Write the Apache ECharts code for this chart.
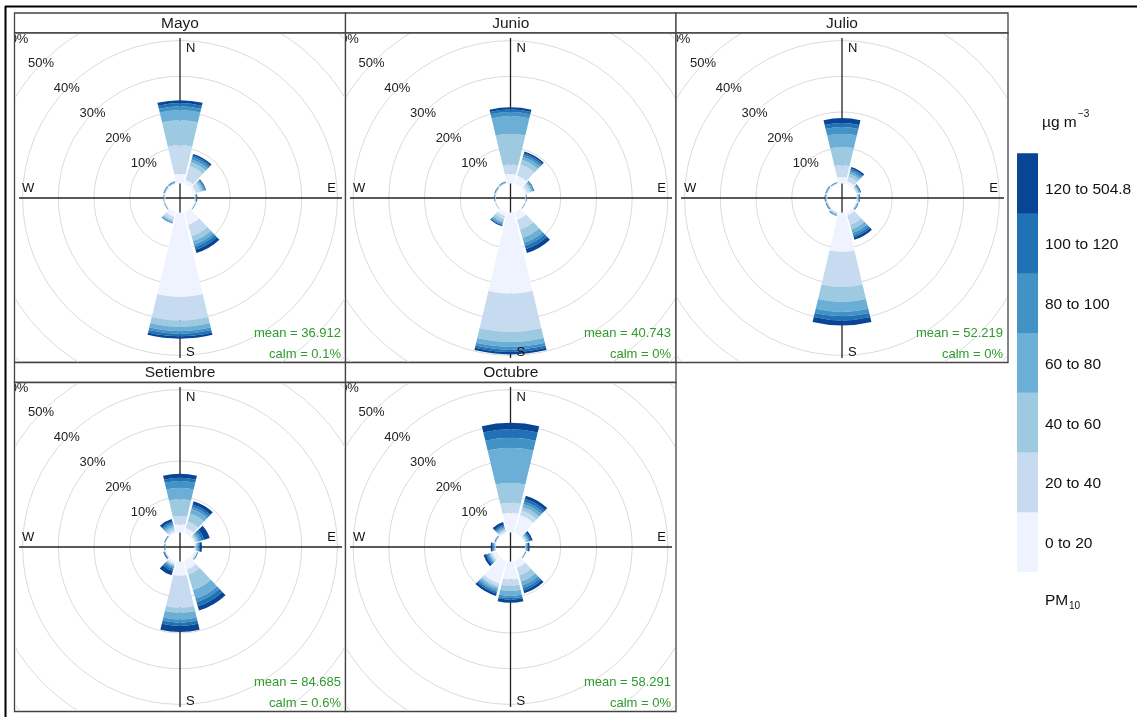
<!DOCTYPE html>
<html><head><meta charset="utf-8">
<script src="https://cdn.jsdelivr.net/npm/echarts@6/dist/echarts.min.js"></script>
<style>
html,body{margin:0;padding:0;background:#fff;}
#bg{position:absolute;left:0;top:0;width:1137px;height:717px;z-index:0;}
.pn{position:absolute;z-index:1;}
</style>
</head><body>
<div id="bg"></div>
<script>
// ---------- data ----------
const directions = ['N','30','60','E','120','150','S','210','240','W','300','330'];
const pmBins = ['0 to 20','20 to 40','40 to 60','60 to 80','80 to 100','100 to 120','120 to 504.8'];
const months = ['Mayo','Junio','Julio','Setiembre','Octubre'];
const radiusTicks = [0,10,20,30,40,50,60];
const meanValues = ['36.912','40.743','52.219','84.685','58.291'];
const calmValues = ['0.1%','0%','0%','0.6%','0%'];

// percent of time per direction (rows: N,30..330) split by PM10 bin (cols: 0-20 ... 120-504.8)
const mayo = [
  [2.7, 8.0, 7.0, 2.8, 1.1, 0.9, 0.8],
  [1.2, 4.0, 1.2, 0.8, 0.6, 0.5, 0.5],
  [0.7, 1.2, 0.6, 0.4, 0.3, 0.2, 0.2],
  [0.1, 0.1, 0.1, 0.1, 0.1, 0.1, 0.2],
  [0.3, 0.1, 0.1, 0.0, 0.0, 0.0, 0.1],
  [3.8, 3.3, 1.4, 1.0, 0.7, 0.8, 1.0],
  [23.6, 6.6, 1.8, 1.2, 0.7, 0.7, 0.7],
  [1.5, 0.9, 0.4, 0.2, 0.2, 0.1, 0.1],
  [0.2, 0.1, 0.1, 0.1, 0.0, 0.0, 0.1],
  [0.2, 0.1, 0.1, 0.1, 0.0, 0.1, 0.0],
  [0.2, 0.1, 0.1, 0.1, 0.1, 0.1, 0.1],
  [0.2, 0.1, 0.1, 0.1, 0.1, 0.1, 0.1]
];
const junio = [
  [2.7, 2.6, 8.6, 4.9, 1.2, 0.7, 0.6],
  [2.4, 3.3, 1.4, 0.8, 0.6, 0.5, 0.5],
  [0.8, 0.8, 0.5, 0.3, 0.2, 0.2, 0.1],
  [0.1, 0.1, 0.1, 0.1, 0.0, 0.0, 0.1],
  [0.1, 0.1, 0.0, 0.0, 0.0, 0.0, 0.1],
  [2.3, 2.9, 2.4, 1.4, 0.9, 0.9, 1.2],
  [22.7, 10.7, 2.8, 1.4, 0.8, 0.6, 0.7],
  [1.2, 0.9, 0.8, 0.5, 0.3, 0.2, 0.3],
  [0.1, 0.1, 0.1, 0.1, 0.0, 0.0, 0.0],
  [0.1, 0.1, 0.1, 0.0, 0.1, 0.0, 0.1],
  [0.1, 0.1, 0.1, 0.1, 0.0, 0.1, 0.1],
  [0.2, 0.1, 0.1, 0.1, 0.1, 0.0, 0.1]
];
const julio = [
  [1.8, 3.3, 5.1, 3.7, 1.9, 1.1, 1.4],
  [0.8, 1.3, 0.9, 0.6, 0.5, 0.4, 0.5],
  [0.2, 0.3, 0.3, 0.2, 0.2, 0.1, 0.2],
  [0.1, 0.2, 0.2, 0.2, 0.1, 0.1, 0.1],
  [0.1, 0.2, 0.1, 0.1, 0.1, 0.1, 0.1],
  [1.0, 2.8, 1.3, 1.0, 0.7, 0.6, 0.7],
  [11.0, 9.8, 4.2, 2.8, 1.2, 1.2, 1.4],
  [0.2, 0.3, 0.2, 0.2, 0.1, 0.1, 0.1],
  [0.1, 0.1, 0.1, 0.1, 0.1, 0.1, 0.1],
  [0.1, 0.2, 0.1, 0.1, 0.1, 0.1, 0.1],
  [0.1, 0.2, 0.1, 0.1, 0.1, 0.1, 0.1],
  [0.1, 0.1, 0.1, 0.1, 0.1, 0.0, 0.1]
];
const setiembre = [
  [2.3, 2.3, 4.7, 3.2, 1.9, 0.9, 1.1],
  [1.5, 1.9, 2.3, 1.3, 0.7, 0.6, 1.0],
  [0.3, 0.4, 0.4, 0.5, 0.6, 0.8, 1.6],
  [0.2, 0.2, 0.2, 0.3, 0.3, 0.3, 0.6],
  [0.6, 0.3, 0.1, 0.1, 0.0, 0.0, 0.1],
  [2.5, 1.5, 4.5, 2.5, 1.0, 1.2, 1.3],
  [4.0, 8.9, 1.4, 1.9, 0.9, 0.9, 1.7],
  [0.8, 0.4, 0.3, 0.3, 0.5, 0.6, 1.3],
  [0.1, 0.1, 0.1, 0.1, 0.1, 0.1, 0.2],
  [0.0, 0.0, 0.1, 0.0, 0.0, 0.1, 0.1],
  [0.1, 0.1, 0.0, 0.1, 0.0, 0.1, 0.1],
  [0.5, 0.6, 0.7, 0.6, 0.5, 0.5, 0.7]
];
const octubre = [
  [5.5, 2.8, 5.6, 9.8, 2.8, 2.4, 1.8],
  [5.2, 1.4, 1.0, 0.9, 0.7, 0.8, 0.9],
  [0.3, 0.3, 0.3, 0.3, 0.3, 0.4, 0.5],
  [0.1, 0.1, 0.1, 0.2, 0.2, 0.2, 0.4],
  [0.1, 0.1, 0.1, 0.1, 0.0, 0.0, 0.1],
  [2.0, 2.3, 1.7, 1.1, 0.8, 0.7, 0.8],
  [5.0, 1.8, 1.4, 1.4, 0.6, 0.5, 0.8],
  [6.6, 0.8, 0.5, 0.6, 0.5, 0.5, 0.7],
  [1.2, 0.5, 0.3, 0.3, 0.4, 0.4, 0.7],
  [0.1, 0.1, 0.2, 0.2, 0.2, 0.3, 0.4],
  [0.1, 0.1, 0.1, 0.1, 0.1, 0.0, 0.1],
  [0.4, 0.4, 0.4, 0.4, 0.4, 0.4, 0.8]
];
const monthData = [mayo, junio, julio, setiembre, octubre];

// ---------- style / layout ----------
const binColors = ['#EFF3FF','#C6DBEF','#9ECAE1','#6BAED6','#4292C6','#2171B5','#084594'];
const FONT = '"Liberation Sans", Arial, Helvetica, sans-serif';
const cols = [[14.5,345.5],[345.5,676],[676,1008]];
const rowsY = [{strip:13, top:33, bottom:362.5},{strip:362.5, top:382.5, bottom:711.5}];
const R0 = 14.6, K = 3.57; // px at 0 %, px per %

function txt(x, y, text, size, color, align, valign, extra) {
  return Object.assign({type:'text', silent:true, z:5, style:{
    x:x, y:y, text:text, fill:color, fontSize:size, fontFamily:FONT,
    font: size + 'px ' + FONT,
    align:align, verticalAlign:valign, textAlign:align, textVerticalAlign:valign}}, extra||{});
}

// ---------- background: frame, strips, legend ----------
const bg = echarts.init(document.getElementById('bg'));
const bgG = [];
bgG.push({type:'line', silent:true, shape:{x1:5,y1:6.5,x2:1137,y2:6.5}, style:{stroke:'#000', lineWidth:2}});
bgG.push({type:'line', silent:true, shape:{x1:5.5,y1:6,x2:5.5,y2:717}, style:{stroke:'#000', lineWidth:2}});
months.forEach((m,i)=>{
  const c = cols[i%3], r = rowsY[Math.floor(i/3)];
  bgG.push({type:'rect', silent:true, shape:{x:c[0], y:r.strip, width:c[1]-c[0], height:r.top-r.strip},
    style:{fill:'#fff', stroke:'#444', lineWidth:1.3}});
  bgG.push({type:'rect', silent:true, shape:{x:c[0], y:r.top, width:c[1]-c[0], height:r.bottom-r.top},
    style:{fill:'#fff', stroke:'#444', lineWidth:1.3}});
  bgG.push(txt((c[0]+c[1])/2, (r.strip+r.top)/2+0.5, m, 15.5, '#1a1a1a', 'center', 'middle'));
});
// legend
const legTop = 153.3, legH = 59.77, legX = 1017, legW = 21;
pmBins.forEach((b,k)=>{
  const pos = pmBins.length-1-k;
  const y0 = legTop + pos*legH;
  bgG.push({type:'rect', silent:true, shape:{x:legX, y:y0, width:legW, height:legH+0.3}, style:{fill:binColors[k]}});
  bgG.push(txt(1045, y0 + legH/2 + 2 + (pos===0?5:0), b, 15.5, '#111', 'left', 'middle'));
});
bgG.push(txt(1042, 123, 'µg m', 15.5, '#111', 'left', 'middle'));
bgG.push(txt(1078, 114, '−3', 10, '#111', 'left', 'middle'));
bgG.push(txt(1045, 601, 'PM', 15.5, '#111', 'left', 'middle'));
bgG.push(txt(1069, 606, '10', 10, '#111', 'left', 'middle'));
bg.setOption({animation:false, graphic:{elements:bgG}});

// ---------- panels ----------
months.forEach((m,i)=>{
  const c = cols[i%3], r = rowsY[Math.floor(i/3)];
  const left = Math.ceil(c[0]+0.5), right = Math.floor(c[1]-0.5);
  const top = Math.ceil(r.top+0.5), bottom = Math.floor(r.bottom-0.5);
  const W = right-left, H = bottom-top;
  const div = document.createElement('div');
  div.className = 'pn';
  div.style.left = left+'px'; div.style.top = top+'px';
  div.style.width = W+'px'; div.style.height = H+'px';
  document.body.appendChild(div);
  const ch = echarts.init(div);
  const data = monthData[i];
  const cx = W/2, cy = H/2;
  const g = [
    {type:'line', silent:true, z:1, shape:{x1:cx, y1:4, x2:cx, y2:H-4}, style:{stroke:'#222', lineWidth:1.3}},
    {type:'line', silent:true, z:1, shape:{x1:4, y1:cy, x2:W-3, y2:cy}, style:{stroke:'#222', lineWidth:1.3}},
    txt(cx+6, 14, 'N', 13, '#111', 'left', 'middle'),
    txt(cx+6, H-10, 'S', 13, '#111', 'left', 'middle'),
    txt(7, cy-10, 'W', 13, '#111', 'left', 'middle'),
    txt(W-9, cy-10, 'E', 13, '#111', 'right', 'middle'),
    txt(W-4, H-28.5, 'mean = ' + meanValues[i], 13, '#2E9B2E', 'right', 'middle'),
    txt(W-4, H-8, 'calm = ' + calmValues[i], 13, '#2E9B2E', 'right', 'middle')
  ];
  const splitColors = radiusTicks.map((t,j)=> j===0 ? 'rgba(0,0,0,0)' : '#dadada');
  const rMax = radiusTicks[radiusTicks.length-1];
  const polarRadius = [R0, R0 + K*rMax];
  ch.setOption({
    animation:false,
    polar:[
      {center:['50%','50%'], radius:polarRadius},
      {center:['50%','50%'], radius:polarRadius}
    ],
    angleAxis:[
      {polarIndex:0, type:'category', data:directions, startAngle:105, clockwise:true, boundaryGap:true,
        axisLine:{show:false}, axisTick:{show:false}, axisLabel:{show:false}, splitLine:{show:false}},
      {polarIndex:1, type:'value', min:0, max:360, startAngle:136, clockwise:true,
        axisLine:{show:false}, axisTick:{show:false}, axisLabel:{show:false}, splitLine:{show:false}}
    ],
    radiusAxis:[
      {polarIndex:0, type:'value', min:radiusTicks[0], max:rMax, interval:10,
        axisLine:{show:false}, axisTick:{show:false}, axisLabel:{show:false},
        splitLine:{show:true, lineStyle:{color:splitColors, width:1}}},
      {polarIndex:1, type:'value', min:radiusTicks[0], max:rMax, interval:10, z:6,
        axisLine:{show:false}, axisTick:{show:false},
        axisLabel:{show:true, formatter:'{value}%', margin:0, align:'center', verticalAlign:'middle',
          color:'#222', fontSize:13, fontFamily:FONT, showMinLabel:false, rotate:0},
        splitLine:{show:false}}
    ],
    series: pmBins.map((b,k)=>({
      type:'bar', coordinateSystem:'polar', polarIndex:0, stack:'pm', name:b,
      data: data.map(d=>d[k]), barCategoryGap:'11%', silent:true, z:3,
      itemStyle:{color:binColors[k]}
    })),
    graphic:{elements:g}
  });
});
</script>
</body></html>
